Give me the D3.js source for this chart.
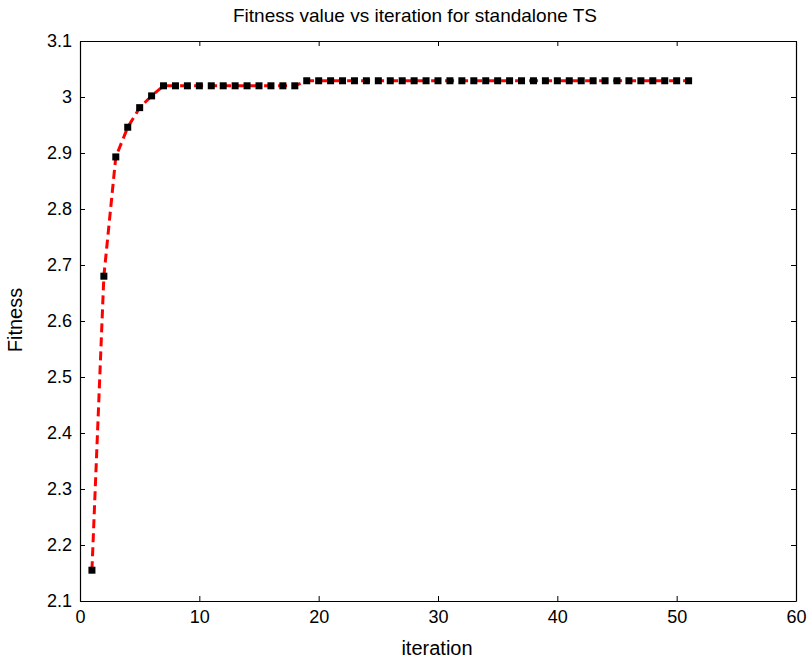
<!DOCTYPE html>
<html>
<head>
<meta charset="utf-8">
<script src="https://cdn.jsdelivr.net/npm/d3@7"></script>
<style>
  html, body { margin: 0; padding: 0; background: #fff; }
  svg { display: block; font-family: "Liberation Sans", Arial, sans-serif; }
</style>
</head>
<body>
<svg id="chart" width="812" height="661"></svg>
<script>
// Best fitness per iteration of the standalone tabu search
const iterations = d3.range(1, 52);
const fitness = [
  2.155, 2.680, 2.893, 2.946, 2.981, 3.002,
  3.020, 3.020, 3.020, 3.020, 3.020, 3.020, 3.020, 3.020, 3.020, 3.020, 3.020, 3.020,
  3.029, 3.029, 3.029, 3.029, 3.029, 3.029, 3.029, 3.029, 3.029, 3.029, 3.029,
  3.029, 3.029, 3.029, 3.029, 3.029, 3.029, 3.029, 3.029, 3.029, 3.029, 3.029,
  3.029, 3.029, 3.029, 3.029, 3.029, 3.029, 3.029, 3.029, 3.029, 3.029, 3.029
];
const xTicks = [0, 10, 20, 30, 40, 50, 60];
const yTicks = [2.1, 2.2, 2.3, 2.4, 2.5, 2.6, 2.7, 2.8, 2.9, 3.0, 3.1];

const titleText = "Fitness value vs iteration for standalone TS";
const xLabel = "iteration";
const yLabel = "Fitness";

const svg = d3.select("#chart");
const m = { left: 80, right: 796, top: 41, bottom: 601 };

const x = d3.scaleLinear().domain([0, 60]).range([m.left, m.right]);
const y = d3.scaleLinear().domain([2.1, 3.1]).range([m.bottom, m.top]);

const points = iterations.map((it, i) => ({ x: it, y: fitness[i] }));

// Axes with inward ticks, mirrored on top and right
const fmtY = d => (d === 3 ? "3" : d3.format(".1f")(d));
const tickLen = 5;

const axB = svg.append("g").attr("transform", `translate(0,${m.bottom})`)
  .call(d3.axisBottom(x).tickValues(xTicks).tickSizeInner(-tickLen).tickSizeOuter(0).tickPadding(9));
const axL = svg.append("g").attr("transform", `translate(${m.left},0)`)
  .call(d3.axisLeft(y).tickValues(yTicks).tickFormat(fmtY).tickSizeInner(-tickLen).tickSizeOuter(0).tickPadding(8));
const axT = svg.append("g").attr("transform", `translate(0,${m.top})`)
  .call(d3.axisTop(x).tickValues(xTicks).tickSizeInner(-tickLen).tickSizeOuter(0).tickFormat(""));
const axR = svg.append("g").attr("transform", `translate(${m.right},0)`)
  .call(d3.axisRight(y).tickValues(yTicks).tickSizeInner(-tickLen).tickSizeOuter(0).tickFormat(""));

[axB, axL, axT, axR].forEach(g => {
  g.select(".domain").attr("stroke", "#000").attr("stroke-width", 1.2);
  g.selectAll(".tick line").attr("stroke", "#000").attr("stroke-width", 1);
  g.selectAll(".tick text").attr("fill", "#000").attr("font-size", 18)
    .attr("font-family", "Liberation Sans, Arial, sans-serif");
});

// Red dashed line
const line = d3.line().x(d => x(d.x)).y(d => y(d.y));
svg.append("path")
  .datum(points)
  .attr("d", line)
  .attr("fill", "none")
  .attr("stroke", "#ff0000")
  .attr("stroke-width", 3)
  .attr("stroke-dasharray", "9,5");

// Square markers
const ms = 7;
svg.append("g").selectAll("rect")
  .data(points)
  .join("rect")
  .attr("x", d => x(d.x) - ms / 2)
  .attr("y", d => y(d.y) - ms / 2)
  .attr("width", ms)
  .attr("height", ms)
  .attr("fill", "#000");

// Title and axis labels
svg.append("text")
  .attr("x", 415).attr("y", 22)
  .attr("text-anchor", "middle").attr("font-size", 19)
  .text(titleText);

svg.append("text")
  .attr("x", 437).attr("y", 655)
  .attr("text-anchor", "middle").attr("font-size", 20)
  .text(xLabel);

svg.append("text")
  .attr("transform", `translate(22,${(m.top + m.bottom) / 2 - 1}) rotate(-90)`)
  .attr("text-anchor", "middle").attr("font-size", 20)
  .text(yLabel);
</script>
</body>
</html>
